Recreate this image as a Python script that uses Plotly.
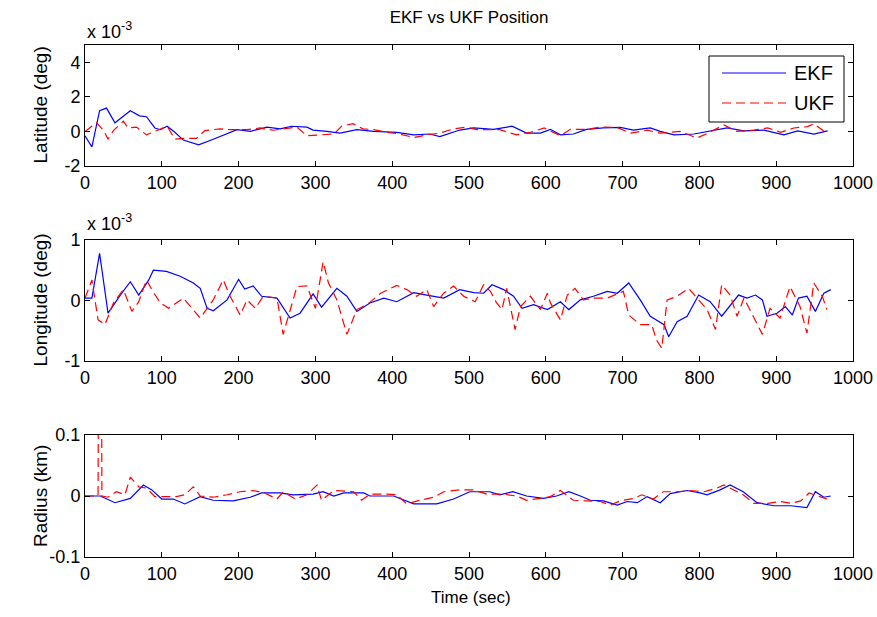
import plotly.graph_objects as go
from plotly.subplots import make_subplots

# latitude error (x 1e-3 deg)
t_lat_ekf = [0, 9, 19, 28, 39, 59, 71, 80, 91, 98, 107, 117, 128, 148, 167, 185, 198, 215,
             237, 254, 269, 289, 297, 315, 332, 354, 376, 406, 428, 449, 462, 488, 506, 532,
             556, 575, 593, 606, 619, 636, 653, 675, 697, 714, 736, 749, 767, 793, 819, 836,
             858, 884, 910, 928, 949, 967]
lat_ekf = [-0.25, -0.9, 1.2, 1.35, 0.5, 1.2, 0.9, 0.85, 0.2, 0.1, 0.3, -0.05, -0.5, -0.78,
           -0.45, -0.15, 0.1, 0.0, 0.25, 0.15, 0.3, 0.25, 0.08, 0.0, -0.1, 0.1, 0.0, -0.05,
           -0.2, -0.15, -0.3, 0.08, 0.2, 0.12, 0.3, -0.1, -0.1, 0.12, -0.2, -0.15, 0.12, 0.2,
           0.23, 0.08, 0.2, 0.0, -0.2, -0.15, 0.08, 0.2, 0.03, 0.08, -0.2, 0.03, -0.15, 0.03]
t_lat_ukf = [0, 15, 24, 30, 37, 50, 56, 67, 80, 96, 107, 117, 128, 145, 156, 176, 189, 211,
             228, 245, 263, 276, 289, 306, 324, 334, 349, 362, 376, 393, 410, 428, 445, 462,
             480, 497, 510, 540, 562, 580, 598, 619, 632, 653, 671, 693, 710, 732, 749, 775,
             797, 811, 832, 849, 871, 889, 906, 923, 941, 949, 967]
lat_ukf = [0.0, 0.5, 0.07, -0.45, 0.05, 0.6, 0.2, 0.25, -0.2, 0.07, 0.3, -0.45, -0.4, -0.4,
           0.05, 0.15, 0.1, 0.1, 0.2, 0.07, 0.15, 0.25, -0.25, -0.2, -0.15, 0.3, 0.45, 0.15,
           0.1, -0.05, -0.15, -0.35, -0.2, -0.1, 0.15, 0.25, 0.1, 0.1, -0.2, -0.05, 0.2,
           -0.25, 0.12, 0.12, 0.25, 0.23, -0.1, 0.07, -0.1, 0.0, -0.38, -0.1, 0.38, 0.0,
           0.08, 0.2, -0.05, 0.2, 0.28, 0.45, -0.15]

# longitude error (x 1e-3 deg)
t_lon_ekf = [0, 9, 19, 30, 46, 59, 70, 83, 89, 106, 124, 141, 150, 159, 167, 185, 200, 208,
             219, 230, 250, 267, 280, 297, 308, 328, 341, 354, 371, 389, 406, 428, 445, 467,
             488, 506, 519, 530, 545, 558, 569, 584, 602, 619, 630, 645, 662, 680, 693, 708,
             723, 736, 754, 760, 771, 784, 799, 814, 829, 851, 862, 873, 882, 888, 901, 912,
             921, 929, 940, 951, 962, 971]
lon_ekf = [0.04, 0.04, 0.78, -0.21, 0.09, 0.31, 0.09, 0.34, 0.5, 0.48, 0.4, 0.29, 0.2, -0.13,
           -0.17, 0.01, 0.35, 0.19, 0.24, 0.07, 0.04, -0.29, -0.21, 0.11, -0.11, 0.2, 0.07,
           -0.18, -0.04, 0.04, -0.02, 0.13, 0.09, 0.04, 0.18, 0.13, 0.12, 0.26, 0.18, 0.07,
           -0.13, -0.07, -0.15, -0.02, -0.15, 0.01, 0.07, 0.15, 0.12, 0.29, 0.01, -0.26, -0.4,
           -0.6, -0.35, -0.26, 0.09, -0.02, -0.26, 0.09, 0.04, 0.09, 0.01, -0.26, -0.21, -0.1,
           -0.24, 0.04, 0.07, -0.18, 0.12, 0.18]
t_lon_ukf = [0, 9, 17, 26, 37, 50, 61, 70, 80, 87, 98, 109, 128, 139, 150, 167, 180, 189,
             202, 211, 222, 232, 250, 258, 276, 289, 300, 310, 317, 328, 341, 354, 367, 385,
             406, 419, 432, 445, 454, 467, 480, 493, 508, 519, 528, 536, 543, 549, 556, 560,
             567, 580, 593, 602, 606, 619, 628, 638, 649, 662, 680, 701, 708, 723, 738, 744,
             751, 758, 771, 786, 797, 810, 821, 829, 840, 849, 858, 871, 882, 892, 905, 918,
             931, 940, 949, 960, 966]
lon_ukf = [0.04, 0.34, -0.32, -0.4, -0.04, 0.18, -0.18, -0.02, 0.34, 0.18, -0.04, -0.13, 0.04,
           -0.13, -0.29, 0.01, 0.34, 0.07, -0.24, 0.01, -0.13, 0.07, 0.04, -0.56, 0.23, 0.24,
           -0.13, 0.64, 0.29, 0.01, -0.56, -0.15, -0.07, 0.12, 0.25, 0.18, 0.07, 0.18, -0.1,
           0.12, 0.24, 0.07, -0.02, 0.26, 0.15, -0.04, -0.15, 0.2, -0.26, -0.48, -0.1, 0.07,
           -0.15, 0.12, -0.04, -0.32, 0.09, 0.2, 0.01, 0.04, 0.04, 0.15, -0.24, -0.4, -0.4,
           -0.65, -0.79, 0.01, 0.07, 0.2, 0.04, -0.15, -0.48, 0.26, 0.09, -0.26, 0.04, -0.29,
           -0.56, -0.13, -0.29, 0.23, -0.1, -0.54, 0.29, 0.07, -0.15]

# radius error (km)
t_rad_ekf = [0, 20, 39, 59, 76, 87, 100, 115, 130, 150, 167, 193, 215, 230, 254, 271, 297,
             310, 324, 337, 363, 371, 402, 428, 458, 480, 501, 527, 540, 557, 575, 597, 614,
             630, 645, 658, 675, 693, 706, 719, 732, 749, 762, 784, 801, 810, 827, 840, 857,
             875, 897, 919, 940, 951, 962, 971]
rad_ekf = [0.0, 0.0, -0.011, -0.004, 0.018, 0.01, -0.005, -0.005, -0.013, -0.001, -0.007,
           -0.008, -0.002, 0.005, 0.005, 0.002, 0.003, 0.007, 0.0, 0.005, 0.005, 0.0, 0.0,
           -0.013, -0.013, -0.005, 0.007, 0.007, 0.002, 0.007, 0.0, -0.004, 0.0, 0.007, 0.0,
           -0.007, -0.008, -0.015, -0.009, -0.011, -0.001, -0.011, 0.004, 0.009, 0.005, 0.002,
           0.01, 0.018, 0.007, -0.011, -0.016, -0.016, -0.019, 0.007, -0.002, 0.0]
t_rad_ukf = [0, 17, 19.5, 22, 30, 41, 52, 59, 70, 80, 91, 102, 119, 130, 141, 150, 167, 185,
             202, 219, 234, 250, 258, 274, 289, 302, 308, 324, 350, 360, 371, 393, 406, 419,
             436, 454, 467, 488, 506, 523, 545, 562, 575, 593, 606, 619, 636, 653, 671, 684,
             697, 714, 725, 740, 753, 771, 788, 806, 823, 832, 845, 857, 871, 889, 906, 919,
             932, 943, 954, 966]
rad_ukf = [0.0, 0.0, 1.0, 0.0, -0.002, 0.007, 0.002, 0.031, 0.015, 0.013, -0.001, -0.001,
           -0.001, 0.002, 0.015, 0.0, -0.002, 0.002, 0.007, 0.009, 0.005, -0.005, 0.007,
           -0.005, 0.002, 0.018, -0.007, 0.009, 0.007, -0.007, 0.003, 0.003, 0.002, -0.013,
           -0.007, -0.002, 0.007, 0.01, 0.01, 0.003, 0.003, 0.0, -0.007, -0.004, -0.001, 0.009,
           -0.007, -0.008, -0.009, -0.015, -0.008, -0.004, 0.002, -0.005, 0.007, 0.007, 0.009,
           0.007, 0.013, 0.018, 0.009, 0.002, -0.012, -0.012, -0.009, -0.012, -0.008, 0.005,
           0.0, -0.005]

x_ticks = list(range(0, 1001, 100))
lat_ticks = [-2, 0, 2, 4]
lat_labels = ["-2", "0", "2", "4"]
lon_ticks = [-1, 0, 1]
lon_labels = ["-1", "0", "1"]
rad_ticks = [-0.1, 0, 0.1]
rad_labels = ["-0.1", "0", "0.1"]

BLUE = "#0000FF"
RED = "#FF0000"
DASH = "9px,5px"
FONT = "Liberation Sans, Arial, sans-serif"

W, H = 877, 617
L, R, T, B = 85, 24, 45, 60
PH = H - T - B  # plot height in px


def py2paper(py):
    return (H - B - py) / PH


def px2paper(px):
    return (px - L) / (W - L - R)


fig = make_subplots(rows=3, cols=1)

panels = [
    (t_lat_ekf, lat_ekf, t_lat_ukf, lat_ukf),
    (t_lon_ekf, lon_ekf, t_lon_ukf, lon_ukf),
    (t_rad_ekf, rad_ekf, t_rad_ukf, rad_ukf),
]
for i, (te, ve, tu, vu) in enumerate(panels, start=1):
    fig.add_trace(go.Scatter(x=te, y=ve, mode="lines", name="EKF",
                             line={"color": BLUE, "width": 1.2}), row=i, col=1)
    fig.add_trace(go.Scatter(x=tu, y=vu, mode="lines", name="UKF",
                             line={"color": RED, "width": 1.2, "dash": DASH}), row=i, col=1)

# panel pixel extents (top, bottom)
extents = [(45, 166), (240, 361), (435, 557)]
yspecs = [([-2, 5], lat_ticks, lat_labels, "Latitude (deg)"),
          ([-1, 1], lon_ticks, lon_labels, "Longitude (deg)"),
          ([-0.1, 0.1], rad_ticks, rad_labels, "Radius (km)")]

axis_style = dict(showline=True, linecolor="black", linewidth=1, mirror="ticks",
                  ticks="inside", ticklen=5, tickcolor="black", showgrid=False,
                  zeroline=False, automargin=False,
                  tickfont={"size": 18, "color": "black", "family": FONT})

for i, ((top, bot), (rng, tv, tt, lab)) in enumerate(zip(extents, yspecs), start=1):
    fig.update_yaxes(row=i, col=1, range=rng, tickvals=tv, ticktext=tt,
                     domain=[py2paper(bot), py2paper(top)], **axis_style)
    fig.update_xaxes(row=i, col=1, range=[0, 1000], tickvals=x_ticks, **axis_style)
    # y-axis title, placed at a fixed distance like MATLAB does
    fig.add_annotation(text=lab, textangle=-90, xref="paper", yref="paper",
                       x=px2paper(40), y=py2paper((top + bot) / 2),
                       xanchor="center", yanchor="middle", showarrow=False,
                       font={"size": 19, "family": FONT, "color": "black"})

fig.add_annotation(text="Time (sec)", xref="paper", yref="paper",
                   x=px2paper(471), y=py2paper(597), xanchor="center", yanchor="middle",
                   showarrow=False, font={"size": 17, "family": FONT, "color": "black"})

# exponent labels
for py in (30, 222):
    fig.add_annotation(text="x 10<sup>-3</sup>", xref="paper", yref="paper",
                       x=0, y=py2paper(py), xanchor="left", yanchor="middle",
                       showarrow=False, font={"size": 18, "family": FONT, "color": "black"})

# legend drawn as a MATLAB-style box
fig.add_shape(type="rect", xref="paper", yref="paper",
              x0=px2paper(709), x1=px2paper(844), y0=py2paper(122), y1=py2paper(56),
              line={"color": "black", "width": 1}, fillcolor="white", layer="above")
for name, color, dash, py in (("EKF", BLUE, "solid", 73), ("UKF", RED, DASH, 103)):
    fig.add_shape(type="line", xref="paper", yref="paper",
                  x0=px2paper(722), x1=px2paper(786), y0=py2paper(py), y1=py2paper(py),
                  line={"color": color, "width": 1.2, "dash": dash}, layer="above")
    fig.add_annotation(text=name, xref="paper", yref="paper", x=px2paper(792),
                       y=py2paper(py), xanchor="left", yanchor="middle", showarrow=False,
                       font={"size": 20, "family": FONT, "color": "black"})

fig.update_layout(
    width=W, height=H,
    margin={"l": L, "r": R, "t": T, "b": B, "autoexpand": False},
    paper_bgcolor="white", plot_bgcolor="white",
    showlegend=False,
    font={"family": FONT, "color": "black", "size": 15},
    title={"text": "EKF vs UKF Position", "x": 469 / W,
           "xanchor": "center", "y": 1 - 17 / H, "yanchor": "middle",
           "font": {"size": 17, "family": FONT, "color": "black"}},
)

fig.write_html("out.html", config={"displayModeBar": False},
               post_script="document.body.style.margin='0px';"
                           "document.body.style.overflow='hidden';")
